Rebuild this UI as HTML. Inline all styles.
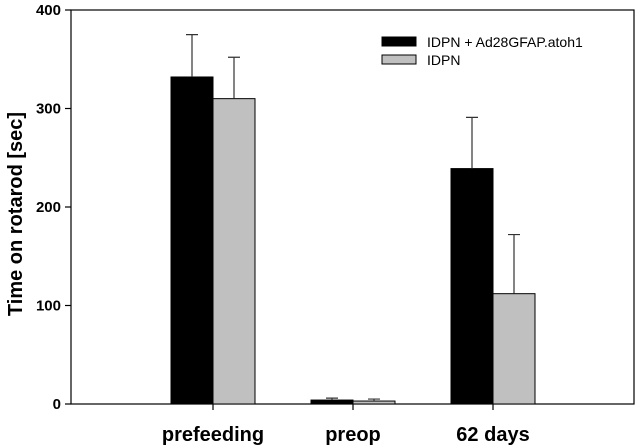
<!DOCTYPE html>
<html><head><meta charset="utf-8"><style>
body{margin:0;background:#fff;}
svg{display:block;font-family:"Liberation Sans",Arial,sans-serif;}
</style></head><body>
<svg id="chart" width="641" height="448"></svg>
<script>
const categories=["prefeeding","preop","62 days"];
const seriesNames=["IDPN + Ad28GFAP.atoh1","IDPN"];
const treatedValues=[332,4,239];
const treatedErrors=[43,2,52];
const controlValues=[310,3,112];
const controlErrors=[42,2,60];
const yTicks=[0,100,200,300,400];
const NS="http://www.w3.org/2000/svg";
const svg=document.getElementById('chart');
const L=71,R=634,T=10,B=404,ymax=400;
const y=v=>B-(B-T)*v/ymax;
const xc=i=>213+140*i;
const bw=42;
function mk(tag,attrs,parent){const e=document.createElementNS(NS,tag);for(const k in attrs)e.setAttribute(k,attrs[k]);(parent||svg).appendChild(e);return e;}
let f=mk('rect',{x:L,y:T,width:R-L,height:B-T,fill:'none',stroke:'#000','stroke-width':1.2});


yTicks.forEach(t=>{
  let ln=mk('line',{x1:L-6,x2:L,y1:y(t),y2:y(t),stroke:'#000','stroke-width':1.2});
  
  
  let tx=mk('text',{x:L-10,y:y(t)+5,'text-anchor':'end','font-size':15,'font-weight':'bold'});
  tx.textContent=t;
  
  
});
let yt=mk('text',{x:0,y:0,'text-anchor':'middle','font-size':20,'font-weight':'bold',transform:`translate(22,${(T+B)/2+7}) rotate(-90)`});
yt.textContent='Time on rotarod [sec]';


function bar(v,e,x0,fill,name){
  let r=mk('rect',{x:x0,y:y(v),width:bw,height:B-y(v),fill:fill,stroke:'#000','stroke-width':1});
  
  
  const cx=x0+bw/2;
  let el=mk('path',{d:`M${cx},${y(v)}V${y(v+e)}M${cx-6},${y(v+e)}H${cx+6}`,stroke:'#333','stroke-width':1.2,fill:'none'});
  
  
}
categories.forEach((c,i)=>{
  bar(treatedValues[i],treatedErrors[i],xc(i)-bw,'#000','bar-treated');
  bar(controlValues[i],controlErrors[i],xc(i),'#c0c0c0','bar-control');
  let tk=mk('line',{x1:xc(i),x2:xc(i),y1:B,y2:B+6,stroke:'#000','stroke-width':1.2});
  
  
  let tx=mk('text',{x:xc(i),y:441,'text-anchor':'middle','font-size':20,'font-weight':'bold'});
  tx.textContent=c;
  
  
});
const legFill=['#000','#c0c0c0'];
seriesNames.forEach((n,i)=>{
  let g=mk('g',{});
  
  
  mk('rect',{x:382,y:37+18*i,width:34,height:9,fill:legFill[i],stroke:'#000','stroke-width':1},g);
  let t=mk('text',{x:427,y:47+18*i,'font-size':14},g);
  t.textContent=n;
});
</script>
</body></html>
